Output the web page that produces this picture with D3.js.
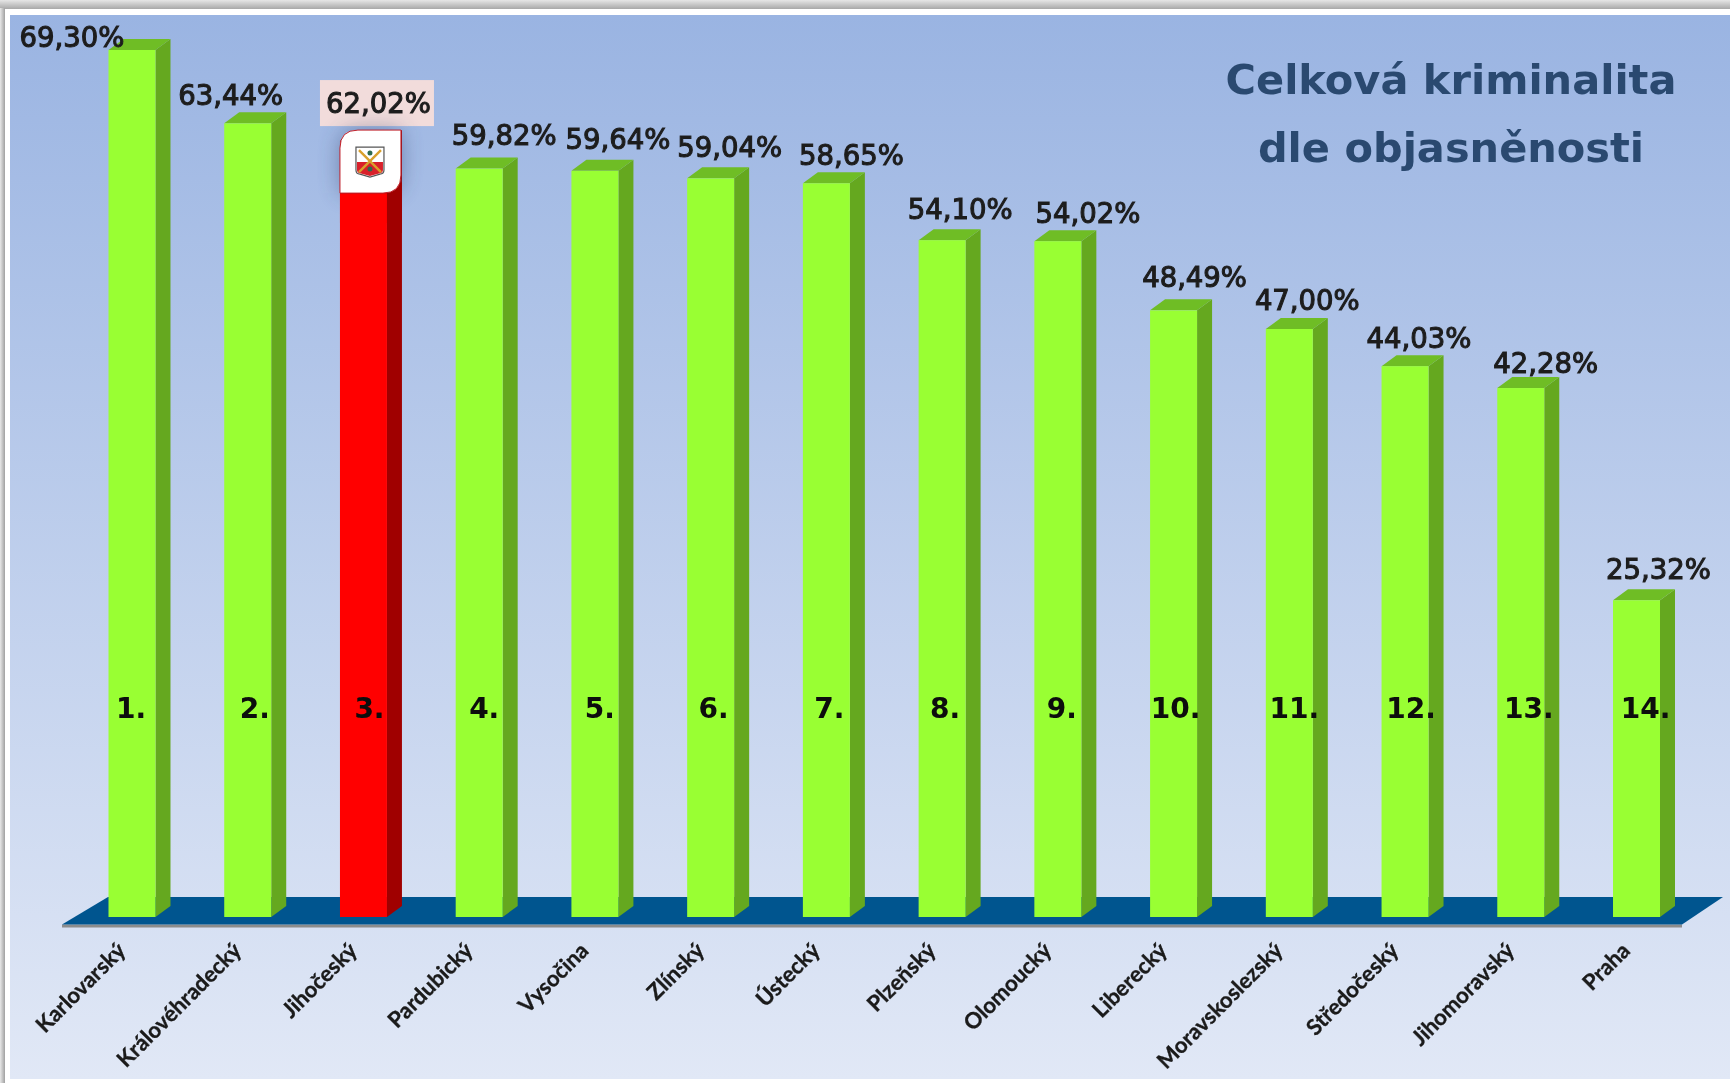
<!DOCTYPE html>
<html><head><meta charset="utf-8">
<script src="https://cdn.jsdelivr.net/npm/d3@7"></script>
<style>html,body{margin:0;padding:0;background:#fff;overflow:hidden}svg{display:block}</style>
</head><body><svg id="c" width="1730" height="1083"></svg>
<script>
const regions = ["Karlovarský","Královéhradecký","Jihočeský","Pardubický","Vysočina","Zlínský","Ústecký","Plzeňský","Olomoucký","Liberecký","Moravskoslezský","Středočeský","Jihomoravský","Praha"];
const values = [69.30,63.44,62.02,59.82,59.64,59.04,58.65,54.10,54.02,48.49,47.00,44.03,42.28,25.32];
const ranks = ["1.","2.","3.","4.","5.","6.","7.","8.","9.","10.","11.","12.","13.","14."];
const highlighted = "Jihočeský";
const titleLines = ["Celková kriminalita","dle objasněnosti"];
// hand-placed data-label nudges of the original chart (px from bar centre / bar top)
const labelNudgeX = [-60,-17,15,25,23,19,25,18,30,21,18,14,25,22];
const labelNudgeY = [-3,-18,-28,-24,-22,-21,-18,-21,-18,-23,-19,-18,-15,-21];
const rankNudgeX = [-1,7,6,5,5,3,3,3,4,2,5,6,8,9];

const W=1730,H=1083, depthX=15, depthY=11;
const svg=d3.select("#c");
const defs=svg.append("defs");
const bg=defs.append("linearGradient").attr("id","bg").attr("x1",0).attr("y1",0).attr("x2",0).attr("y2",1);
bg.append("stop").attr("offset",0).attr("stop-color","#9ab4e2");
bg.append("stop").attr("offset",1).attr("stop-color","#e1e8f6");
const fr=defs.append("linearGradient").attr("id","frame").attr("x1",0).attr("y1",0).attr("x2",0).attr("y2",1);
fr.append("stop").attr("offset",0).attr("stop-color","#e6e6e6");
fr.append("stop").attr("offset",1).attr("stop-color","#a8a8a8");
const lf=defs.append("linearGradient").attr("id","leftframe").attr("x1",0).attr("y1",0).attr("x2",1).attr("y2",0);
lf.append("stop").attr("offset",0).attr("stop-color","#e8e8e8");
lf.append("stop").attr("offset",1).attr("stop-color","#a0a0a0");
const rg=defs.append("linearGradient").attr("id","redTop").attr("x1",0).attr("y1",0).attr("x2",0).attr("y2",1);
rg.append("stop").attr("offset",0).attr("stop-color","#d60000");
rg.append("stop").attr("offset",0.05).attr("stop-color","#ff0000");
rg.append("stop").attr("offset",1).attr("stop-color","#ff0000");
const soft=defs.append("filter").attr("id","soft").attr("x","-5%").attr("y","-20%").attr("width","110%").attr("height","140%");
soft.append("feGaussianBlur").attr("stdDeviation",0.5);
const sh=defs.append("filter").attr("id","sh").attr("x","-60%").attr("y","-60%").attr("width","220%").attr("height","220%");
sh.append("feGaussianBlur").attr("stdDeviation",11);

// frame
svg.append("rect").attr("width",W).attr("height",H).attr("fill","#fff");
svg.append("rect").attr("width",W).attr("height",9).attr("fill","url(#frame)");
svg.append("rect").attr("y",8).attr("width",5).attr("height",H-8).attr("fill","url(#leftframe)");
svg.append("rect").attr("x",10).attr("y",15).attr("width",W-10).attr("height",1064).attr("fill","url(#bg)");

const x=d3.scaleBand().domain(regions).range([108.5,1660]).paddingInner(0.594).paddingOuter(0);
const y=d3.scaleLinear().domain([0,69.3]).range([917,50]);
const bw=x.bandwidth();

// floor
const fb=897, ff=924.5;
const fl=[62,108,1723,1682];
svg.append("line").attr("x1",fl[0]).attr("x2",fl[3]).attr("y1",ff+1.5).attr("y2",ff+1.5).attr("stroke","#8c8c8c").attr("stroke-width",3);
svg.append("path").attr("fill","#00558f").attr("d",d3.line()([[fl[0],ff],[fl[1],fb],[fl[2],fb],[fl[3],ff]])+"Z");

// bars
const g=svg.selectAll("g.bar").data(regions.map((r,i)=>({r,v:values[i],i}))).join("g").attr("class","bar");
const line=d3.line();
g.append("path").attr("fill",d=>d.r===highlighted?"#a00000":"#65a81f").attr("d",d=>{
  const r=x(d.r)+bw, t=y(d.v), b=y(0);
  return line([[r,t],[r+depthX,t-depthY],[r+depthX,b-depthY],[r,b]])+"Z";});
g.append("path").attr("fill",d=>d.r===highlighted?"#c00000":"#6fbd25").attr("d",d=>{
  const l=x(d.r), r=l+bw, t=y(d.v);
  return line([[l,t],[l+depthX,t-depthY],[r+depthX,t-depthY],[r,t]])+"Z";});
g.append("rect").attr("x",d=>x(d.r)).attr("y",d=>y(d.v)).attr("width",bw).attr("height",d=>y(0)-y(d.v))
  .attr("fill",d=>d.r===highlighted?"url(#redTop)":"#99ff33");

// highlighted data-label box + coat of arms badge
const hx=x(highlighted), ht=y(values[regions.indexOf(highlighted)]);
svg.append("rect").attr("x",hx-20).attr("y",ht-61).attr("width",114).attr("height",46).attr("fill","#f2dcdb");
const bx=hx, by=ht-11, bwid=61, bh=63, rad=18;
const badge=`M${bx},${by+rad}Q${bx},${by} ${bx+rad},${by}H${bx+bwid}V${by+bh-rad}Q${bx+bwid},${by+bh} ${bx+bwid-rad},${by+bh}H${bx}Z`;
svg.append("path").attr("d",badge).attr("fill","#2b3a66").attr("opacity",0.45).attr("filter","url(#sh)");
svg.append("rect").attr("x",hx).attr("y",by+bh).attr("width",bw).attr("height",30).attr("fill","url(#redTop)");
svg.append("path").attr("fill","#a00000").attr("d",line([[hx+bw,by+bh],[hx+bw+depthX,by+bh-11],[hx+bw+depthX,by+bh+40],[hx+bw,by+bh+40]])+"Z");
svg.append("path").attr("d",badge).attr("fill","#fff").attr("stroke","#c0202a").attr("stroke-width",1);
// little shield
const sx=hx+16, sy=by+17;
const shield=svg.append("g").attr("transform",`translate(${sx},${sy})`);
shield.append("path").attr("d","M0,0H28V23Q28,27 24,27L14,30L4,27Q0,27 0,23Z").attr("fill","#fff").attr("stroke","#555").attr("stroke-width",1.2);
shield.append("path").attr("d","M1,15H27V23Q27,26 23,26.500L14,29L5,26.500Q1,26 1,23Z").attr("fill","#d8202a");
shield.append("path").attr("d","M3,3L25,25M25,3L3,25").attr("stroke","#d9a02c").attr("stroke-width",2.4);
shield.append("circle").attr("cx",14).attr("cy",6).attr("r",2.5).attr("fill","#2d6a4f");
shield.append("circle").attr("cx",14).attr("cy",22).attr("r",2.5).attr("fill","#2d6a4f");

// data labels
svg.append("g").attr("filter","url(#soft)").selectAll("text").data(regions).join("text")
  .attr("x",(d,i)=>x(d)+bw/2+labelNudgeX[i]).attr("y",(d,i)=>y(values[i])+labelNudgeY[i])
  .attr("text-anchor","middle").attr("font-family","DejaVu Sans").attr("font-size",27.5)
  .attr("fill","#1f1f1f").attr("stroke","#1f1f1f").attr("stroke-width",1.1)
  .text((d,i)=>d3.format(".2f")(values[i]).replace(".",",")+"%");

// rank labels
svg.append("g").attr("filter","url(#soft)").selectAll("text").data(regions).join("text")
  .attr("x",(d,i)=>x(d)+bw/2+rankNudgeX[i]).attr("y",718)
  .attr("text-anchor","middle").attr("font-family","DejaVu Sans").attr("font-weight","bold").attr("font-size",28)
  .attr("fill","#0a0a0a").text((d,i)=>ranks[i]);

// category axis
const ax=svg.append("g").attr("transform","translate(0,926)").attr("filter","url(#soft)")
  .call(d3.axisBottom(x).tickSize(0).tickPadding(0));
ax.select(".domain").remove();
ax.selectAll("text").attr("font-family","Lato").attr("font-weight","bold").attr("font-size",22).attr("fill","#1a1a1a")
  .attr("stroke","#1a1a1a").attr("stroke-width",0.35)
  .attr("text-anchor","end").attr("dy",0).attr("y",0)
  .attr("transform","translate(-5,26) rotate(-45)");

// title
svg.append("text").attr("filter","url(#soft)").attr("text-anchor","middle").attr("font-family","DejaVu Sans").attr("font-weight","bold")
  .attr("font-size",41.5).attr("fill","#2b4a70")
  .selectAll("tspan").data(titleLines).join("tspan").attr("x",1451).attr("y",(d,i)=>94+i*68).text(d=>d);
</script></body></html>
